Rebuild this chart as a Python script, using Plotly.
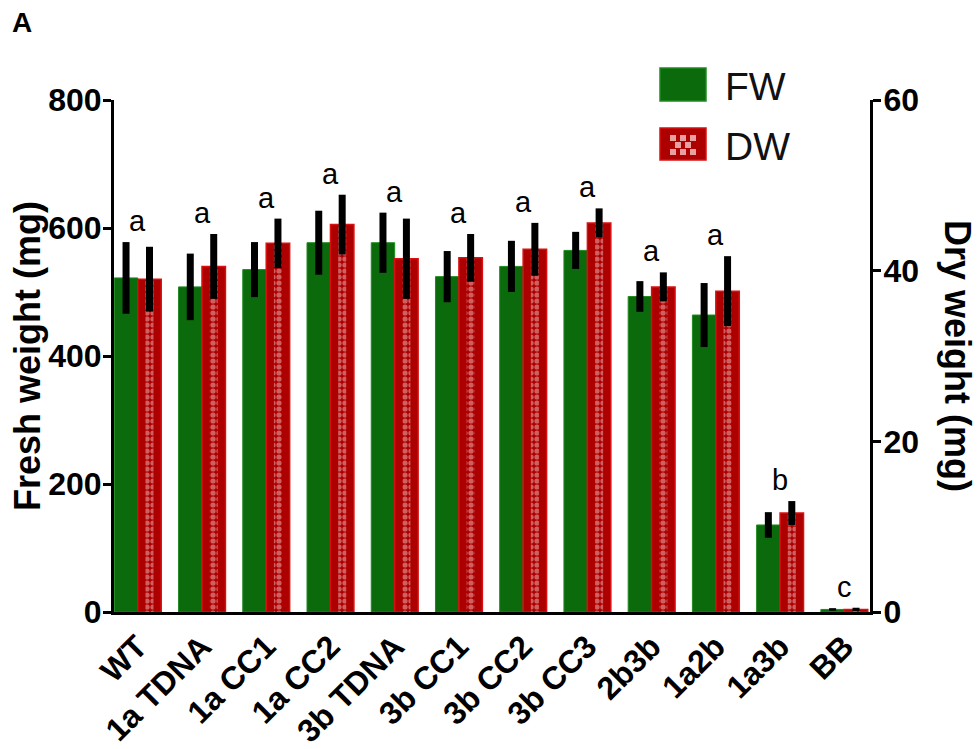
import plotly.graph_objects as go

# Genotypes and measured weights (mean ± SD)
genotypes = ["WT", "1a TDNA", "1a CC1", "1a CC2", "3b TDNA", "3b CC1",
             "3b CC2", "3b CC3", "2b3b", "1a2b", "1a3b", "BB"]
fw_mean = [522, 508, 535, 577, 577, 524, 540, 565, 493, 464, 136, 4]
fw_sd = [56, 52, 43, 50, 47, 40, 40, 29, 24, 50, 20, 2]
dw_mean = [39.0, 40.5, 43.2, 45.4, 41.4, 41.5, 42.5, 45.6, 38.1, 37.6, 11.6, 0.3]
dw_sd = [3.8, 3.8, 2.9, 3.5, 4.7, 2.8, 3.1, 1.7, 1.7, 4.1, 1.4, 0.2]
letters = ["a", "a", "a", "a", "a", "a", "a", "a", "a", "a", "b", "c"]

FW_MAX, DW_MAX = 800, 60
GREEN, GREEN_EDGE = "#0b6a0b", "#1f8a1f"
RED, RED_EDGE = "#ad0000", "#d81010"
FONT = "Arial, Liberation Sans, Helvetica, sans-serif"

W, H = 980, 749
ML, MR, MT, MB = 114, 110, 100, 137
PW, PH = W - ML - MR, H - MT - MB


def px(xp, yp):
    """Pixel position on the page -> paper coordinates."""
    return (xp - ML) / PW, (H - MB - yp) / PH


BAR_W = 0.365
err_style = dict(type="data", thickness=7, width=0, color="black")

fig = go.Figure()
fig.add_trace(go.Bar(
    x=genotypes, y=fw_mean, offset=-BAR_W, width=BAR_W, name="FW",
    marker=dict(color=GREEN, line=dict(color=GREEN_EDGE, width=1)),
    error_y=dict(array=fw_sd, **err_style), yaxis="y"))
fig.add_trace(go.Bar(
    x=genotypes, y=dw_mean, offset=0, width=BAR_W, name="DW",
    marker=dict(color=RED, line=dict(color=RED_EDGE, width=1.5)),
    yaxis="y2"))
# checkered strip down the middle of the DW bars
fig.add_trace(go.Bar(
    x=genotypes, y=dw_mean, offset=0.12, width=0.125, showlegend=False,
    marker=dict(color=RED, line=dict(width=0),
                pattern=dict(shape=".", fgcolor="#f4c0c0", bgcolor=RED,
                             size=6, solidity=0.6)),
    yaxis="y2", hoverinfo="skip"))
fig.add_trace(go.Bar(
    x=genotypes, y=dw_mean, offset=0, width=BAR_W, showlegend=False,
    marker=dict(color="rgba(0,0,0,0)", line=dict(width=0)),
    error_y=dict(array=dw_sd, **err_style), yaxis="y2", hoverinfo="skip"))

# significance letters above the taller whisker of each group
annotations = []
for i, (lab, f, fs, d, ds) in enumerate(zip(letters, fw_mean, fw_sd, dw_mean, dw_sd)):
    top = max(f + fs, (d + ds) * FW_MAX / DW_MAX)
    annotations.append(dict(x=i, y=top, xref="x", yref="y", text=lab,
                            showarrow=False, xanchor="center", yanchor="middle",
                            yshift=21,
                            font=dict(family=FONT, size=29, color="black")))

# axis titles and panel label
lx, ly = px(27, 356)
annotations.append(dict(x=lx, y=ly, xref="paper", yref="paper", text="Fresh weight (mg)",
                        textangle=-90, showarrow=False, xanchor="center", yanchor="middle",
                        font=dict(family=FONT, size=36, color="black", weight=700)))
rx, ry = px(958, 356)
annotations.append(dict(x=rx, y=ry, xref="paper", yref="paper", text="Dry weight (mg)",
                        textangle=90, showarrow=False, xanchor="center", yanchor="middle",
                        font=dict(family=FONT, size=36, color="black", weight=700)))
ax_, ay_ = px(22, 22)
annotations.append(dict(x=ax_, y=ay_, xref="paper", yref="paper", text="A",
                        showarrow=False, xanchor="center", yanchor="middle",
                        font=dict(family=FONT, size=28, color="black", weight=700)))

# legend
shapes = []
for (y0, y1, fill, edge, label, ty) in [(68, 101, GREEN, GREEN_EDGE, "FW", 86),
                                         (128, 160, RED, RED_EDGE, "DW", 146)]:
    x0p, y0p = px(660, y1)
    x1p, y1p = px(706, y0)
    shapes.append(dict(type="rect", xref="paper", yref="paper", x0=x0p, x1=x1p,
                       y0=y0p, y1=y1p, fillcolor=fill, line=dict(color=edge, width=1.5),
                       layer="above"))
    tx, tyy = px(723, ty)
    annotations.append(dict(x=tx, y=tyy, xref="paper", yref="paper", text=label,
                            xanchor="left", yanchor="middle", showarrow=False,
                            font=dict(family=FONT, size=39, color="#111111")))
# checker squares on the DW legend swatch
for cx, cy in [(673, 138), (683, 138), (693, 138), (678, 145), (688, 145),
               (673, 152), (683, 152), (693, 152)]:
    a0, b0 = px(cx - 3, cy + 3)
    a1, b1 = px(cx + 3, cy - 3)
    shapes.append(dict(type="rect", xref="paper", yref="paper", x0=a0, x1=a1,
                       y0=b0, y1=b1, fillcolor="#e9a0a0", line=dict(width=0),
                       layer="above"))

tick_font = dict(family=FONT, size=32, color="black", weight=700)
fig.update_layout(
    width=W, height=H, margin=dict(l=ML, r=MR, t=MT, b=MB, autoexpand=False),
    paper_bgcolor="white", plot_bgcolor="white",
    barmode="overlay", showlegend=False,
    xaxis=dict(type="category", range=[-0.37, 11.4], showline=True, linewidth=3,
               linecolor="black", ticks="", tickangle=-45, tickfont=tick_font,
               automargin=False, showgrid=False, zeroline=False),
    yaxis=dict(range=[0, FW_MAX], tickvals=[0, 200, 400, 600, 800], showline=True,
               linewidth=3, linecolor="black", ticks="outside", ticklen=8,
               tickwidth=3, tickcolor="black", tickfont=tick_font,
               ticklabelstandoff=-5, automargin=False,
               showgrid=False, zeroline=False),
    yaxis2=dict(range=[0, DW_MAX], tickvals=[0, 20, 40, 60], overlaying="y",
                side="right", showline=True, linewidth=3, linecolor="black",
                ticks="outside", ticklen=8, tickwidth=3, tickcolor="black",
                tickfont=tick_font, ticklabelstandoff=-4, automargin=False,
                showgrid=False, zeroline=False),
    annotations=annotations, shapes=shapes,
)

fig.write_html("out.html")
